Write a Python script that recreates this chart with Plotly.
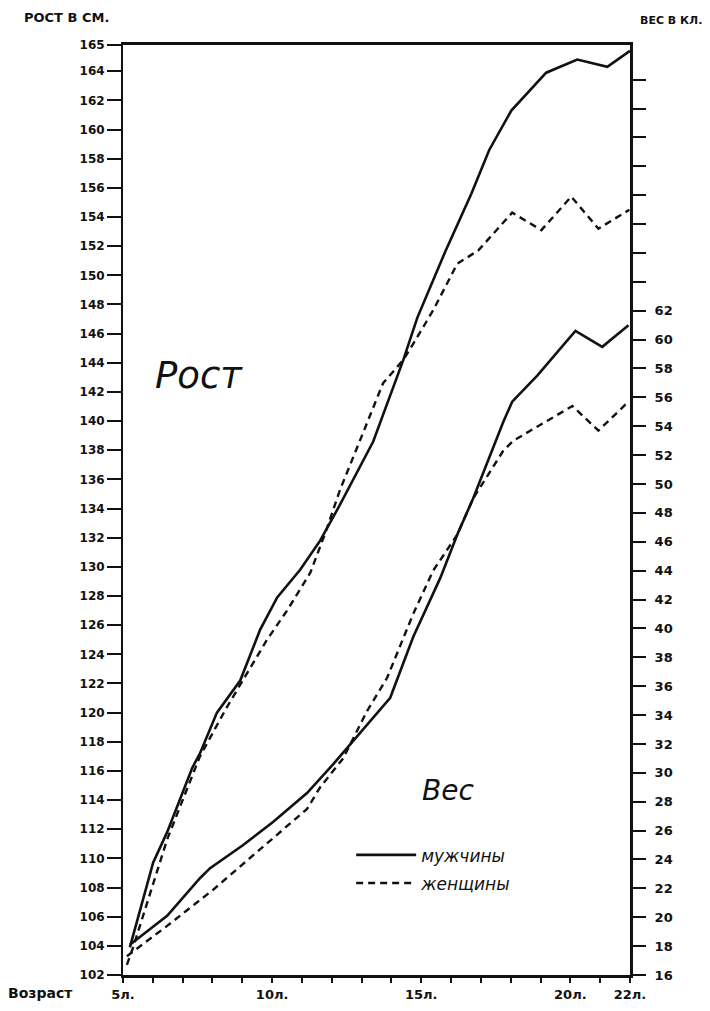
import plotly.graph_objects as go

# ---- data ----
age_h_m = [5.23, 6.01, 6.48, 6.91, 7.32, 7.58, 8.15, 8.93, 9.60, 10.17, 10.94, 11.61, 12.18,
           13.39, 14.40, 14.87, 15.80, 16.68, 17.28, 18.02, 19.19, 20.23, 21.24, 22.0]
height_m = [103.9, 109.7, 111.8, 114.0, 116.2, 117.2, 120.0, 122.2, 125.7, 127.9, 129.8, 131.8, 133.9,
            138.6, 144.2, 147.1, 151.6, 155.6, 158.6, 161.3, 163.9, 164.8, 164.3, 165.4]

age_h_f = [5.13, 5.34, 6.48, 7.58, 8.49, 9.26, 9.83, 10.50, 11.28, 11.78, 12.28, 13.72, 14.40,
           14.73, 15.40, 16.21, 16.91, 18.05, 19.03, 20.03, 20.94, 21.98]
height_f = [102.7, 103.9, 111.3, 117.0, 120.4, 123.1, 125.0, 127.0, 129.6, 132.3, 135.3, 142.6, 144.2,
            145.3, 147.6, 150.8, 151.7, 154.3, 153.1, 155.4, 153.2, 154.5]

age_w_m = [5.23, 6.48, 7.58, 7.92, 9.03, 10.03, 11.17, 12.05, 13.96, 14.73, 15.64, 16.21, 16.74,
           17.75, 18.05, 18.89, 20.17, 21.07, 21.95]
weight_m = [18.1, 20.1, 22.7, 23.4, 25.0, 26.6, 28.6, 30.6, 35.2, 39.4, 43.5, 46.5, 49.0,
            54.3, 55.7, 57.5, 60.6, 59.5, 61.0]

age_w_f = [5.13, 6.48, 8.02, 9.70, 11.17, 11.61, 12.38, 13.19, 13.86, 14.73, 15.40, 16.21, 16.74,
           17.75, 18.09, 20.07, 20.94, 21.95]
weight_f = [17.3, 19.4, 21.9, 24.9, 27.5, 29.0, 31.0, 34.3, 36.6, 41.0, 44.0, 46.5, 49.0,
            52.3, 53.0, 55.4, 53.7, 55.7]

age_ticks = list(range(5, 23))
age_labels = {5: "5л.", 10: "10л.", 15: "15л.", 20: "20л.", 22: "22л."}
height_ticks = list(range(102, 165, 2))
weight_ticks = list(range(16, 80, 2))
weight_labeled_max = 62

BLACK = "#111111"
FONT = "DejaVu Sans"

fig = go.Figure()
fig.add_trace(go.Scatter(x=age_h_m, y=height_m, mode="lines", name="мужчины",
                         legendgroup="m", line=dict(color=BLACK, width=2.6)))
fig.add_trace(go.Scatter(x=age_h_f, y=height_f, mode="lines", name="женщины",
                         legendgroup="f", line=dict(color=BLACK, width=2.4, dash="7px,5px")))
fig.add_trace(go.Scatter(x=age_w_m, y=weight_m, mode="lines", name="мужчины", showlegend=False,
                         legendgroup="m", yaxis="y2", line=dict(color=BLACK, width=2.6)))
fig.add_trace(go.Scatter(x=age_w_f, y=weight_f, mode="lines", name="женщины", showlegend=False,
                         legendgroup="f", yaxis="y2", line=dict(color=BLACK, width=2.4, dash="7px,5px")))

tickfont = dict(family=FONT, size=12, color=BLACK, weight="bold")

fig.update_layout(
    width=710, height=1011,
    margin=dict(l=115, r=88, t=37, b=44),
    paper_bgcolor="white", plot_bgcolor="white",
    showlegend=True,
    legend=dict(x=0.45, y=0.148, xanchor="left", yanchor="top", bgcolor="rgba(0,0,0,0)",
                font=dict(family=FONT, size=17, color=BLACK, style="italic"),
                itemwidth=60, tracegroupgap=3),
    xaxis=dict(range=[5, 22], tickvals=age_ticks,
               ticktext=[age_labels.get(a, "") for a in age_ticks],
               ticks="outside", ticklen=5, tickwidth=2, tickcolor=BLACK,
               showline=True, linewidth=3, linecolor=BLACK, mirror=True,
               showgrid=False, zeroline=False, tickfont=dict(family=FONT, size=13, color=BLACK, weight="bold")),
    yaxis=dict(range=[102, 165.8], tickvals=height_ticks + [165.8],
               ticktext=[str(v) for v in height_ticks] + ["165"],
               ticks="outside", ticklen=14, tickwidth=2, tickcolor=BLACK,
               showline=True, linewidth=2, linecolor=BLACK,
               showgrid=False, zeroline=False, tickfont=tickfont),
    yaxis2=dict(range=[16, 80.4], overlaying="y", side="right", tickvals=weight_ticks,
                ticktext=[str(v) if v <= weight_labeled_max else "" for v in weight_ticks],
                ticks="outside", ticklen=13, tickwidth=2, tickcolor=BLACK, ticklabelstandoff=6,
                showline=True, linewidth=3, linecolor=BLACK,
                showgrid=False, zeroline=False, tickfont=dict(family=FONT, size=13, color=BLACK, weight="bold")),
)

fig.add_annotation(text="РОСТ В СМ.", xref="paper", yref="paper", x=-0.2, y=1.0, yshift=18,
                   xanchor="left", yanchor="bottom", showarrow=False,
                   font=dict(family=FONT, size=13, color=BLACK, weight="bold"))
fig.add_annotation(text="ВЕС В КЛ.", xref="paper", yref="paper", x=1.015, y=1.0, yshift=16,
                   xanchor="left", yanchor="bottom", showarrow=False,
                   font=dict(family=FONT, size=11, color=BLACK, weight="bold"))
fig.add_annotation(text="Рост", xref="paper", yref="paper", x=0.06, y=0.645,
                   xanchor="left", yanchor="middle", showarrow=False,
                   font=dict(family=FONT, size=37, color=BLACK, style="italic"))
fig.add_annotation(text="Вес", xref="paper", yref="paper", x=0.585, y=0.198,
                   xanchor="left", yanchor="middle", showarrow=False,
                   font=dict(family=FONT, size=28, color=BLACK, style="italic"))
fig.add_annotation(text="Возраст", xref="paper", yref="paper", x=-0.23, y=0.0, yshift=-18,
                   xanchor="left", yanchor="middle", showarrow=False,
                   font=dict(family=FONT, size=14, color=BLACK, weight="bold"))

fig.write_html("out.html")
